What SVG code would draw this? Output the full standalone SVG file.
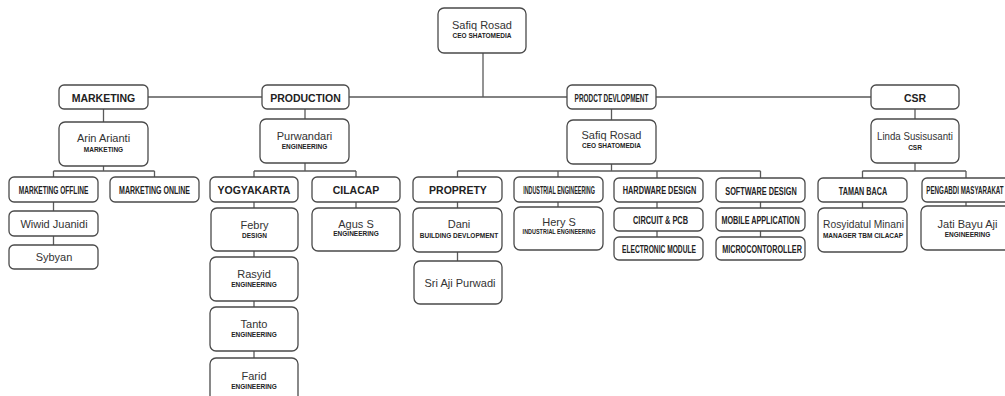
<svg xmlns="http://www.w3.org/2000/svg" width="1005" height="396" viewBox="0 0 1005 396">
<style>
.b{fill:#fff;stroke:#4a4a4a;stroke-width:1.3}
.c{stroke:#5a5a5a;stroke-width:1.3;fill:none}
text{font-family:"Liberation Sans",Arial,sans-serif;fill:#222;text-anchor:middle}
.h{font-weight:bold;font-size:10.5px}
.n{font-weight:bold;font-size:10px}
.nm{font-size:11px;fill:#333}
.s{font-weight:bold;font-size:6.5px}
</style>
<rect width="1005" height="396" fill="#fff"/>
<g id="connectors">
<path class="c" d="M483,53V97M148,97H871"/>
<path class="c" d="M103.5,109V122M103.5,166V171M53.5,171H154.5M53.5,171V177M154.5,171V177M53.5,202V211M53.5,236V245"/>
<path class="c" d="M305,109V119M305,163V171M254,171H356M254,171V177M356,171V177M254,202V208M254,251V257M254,301V307M254,351V358M356,202V208"/>
<path class="c" d="M611.5,109V120M611.5,164V171M457.5,171H760.5M457.5,171V177M558,171V177M657,171V178M760.5,171V178M457.5,202V208M457.5,252V261M558,202V207M657,202V208M657,231V237M760.5,202V208M760.5,231V237"/>
<path class="c" d="M915,109V119M915,163V171M862.5,171H966M862.5,171V178M966,171V178M862.5,202V208M966,202V206"/>
</g>
<g id="ceo"><rect class="b" x="438" y="8" width="88" height="45" rx="6"/><text class="nm" x="482" y="29">Safiq Rosad</text><text class="s" x="482" y="38">CEO SHATOMEDIA</text></g>
<g id="marketing"><rect class="b" x="59" y="85" width="89" height="24" rx="5"/><text class="h" x="103.5" y="101.5">MARKETING</text></g>
<g id="production"><rect class="b" x="262" y="85" width="87" height="24" rx="5"/><text class="h" x="305.5" y="101.5">PRODUCTION</text></g>
<g id="prodct-devlopment"><rect class="b" x="567" y="85" width="89" height="24" rx="5"/><text class="n" transform="translate(611.5,101.5) scale(0.646,1)">PRODCT DEVLOPMENT</text></g>
<g id="csr"><rect class="b" x="871" y="85" width="88" height="24" rx="5"/><text class="h" x="915" y="101.5">CSR</text></g>
<g id="arin"><rect class="b" x="59" y="122" width="89" height="44" rx="6"/><text class="nm" x="103.5" y="142">Arin Arianti</text><text class="s" x="103.5" y="152">MARKETING</text></g>
<g id="purwandari"><rect class="b" x="260" y="119" width="89" height="44" rx="6"/><text class="nm" x="304.5" y="140">Purwandari</text><text class="s" x="304.5" y="149">ENGINEERING</text></g>
<g id="safiq2"><rect class="b" x="567" y="120" width="89" height="44" rx="6"/><text class="nm" x="611.5" y="139">Safiq Rosad</text><text class="s" x="611.5" y="148">CEO SHATOMEDIA</text></g>
<g id="linda"><rect class="b" x="871" y="119" width="88" height="44" rx="6"/><text class="nm" transform="translate(915,140) scale(0.88,1)">Linda Susisusanti</text><text class="s" x="915" y="150">CSR</text></g>
<g id="marketing-offline"><rect class="b" x="9" y="177" width="89" height="25" rx="5"/><text class="n" transform="translate(53.5,194) scale(0.657,1)">MARKETING OFFLINE</text></g>
<g id="marketing-online"><rect class="b" x="110" y="177" width="89" height="25" rx="5"/><text class="n" transform="translate(154.5,194) scale(0.702,1)">MARKETING ONLINE</text></g>
<g id="yogyakarta"><rect class="b" x="210" y="177" width="88" height="25" rx="5"/><text class="h" x="254" y="194">YOGYAKARTA</text></g>
<g id="cilacap"><rect class="b" x="312" y="177" width="88" height="25" rx="5"/><text class="h" x="356" y="194">CILACAP</text></g>
<g id="proprety"><rect class="b" x="413" y="177" width="89" height="25" rx="5"/><text class="h" x="458" y="194">PROPRETY</text></g>
<g id="industrial-engineering"><rect class="b" x="514" y="177" width="89" height="25" rx="5"/><text class="n" transform="translate(559,193.5) scale(0.54,1)">INDUSTRIAL ENGINEERING</text></g>
<g id="hardware-design"><rect class="b" x="614" y="178" width="89" height="24" rx="5"/><text class="n" transform="translate(659.5,194) scale(0.736,1)">HARDWARE DESIGN</text></g>
<g id="software-design"><rect class="b" x="716" y="178" width="89" height="24" rx="5"/><text class="n" transform="translate(761,194.5) scale(0.732,1)">SOFTWARE DESIGN</text></g>
<g id="taman-baca"><rect class="b" x="818" y="178" width="89" height="24" rx="5"/><text class="n" transform="translate(863,194.5) scale(0.723,1)">TAMAN BACA</text></g>
<g id="pengabdi-masyarakat"><rect class="b" x="922" y="178" width="89" height="24" rx="5"/><text class="n" transform="translate(965,194) scale(0.62,1)">PENGABDI MASYARAKAT</text></g>
<g id="wiwid"><rect class="b" x="9" y="211" width="89" height="25" rx="5"/><text class="nm" x="54" y="227.5">Wiwid Juanidi</text></g>
<g id="sybyan"><rect class="b" x="9" y="245" width="89" height="24" rx="5"/><text class="nm" x="54" y="261">Sybyan</text></g>
<g id="febry"><rect class="b" x="211" y="208" width="87" height="43" rx="6"/><text class="nm" x="254.5" y="229">Febry</text><text class="s" x="254.5" y="238">DESIGN</text></g>
<g id="rasyid"><rect class="b" x="210" y="257" width="88" height="44" rx="6"/><text class="nm" x="254" y="278">Rasyid</text><text class="s" x="254" y="287">ENGINEERING</text></g>
<g id="tanto"><rect class="b" x="210" y="307" width="88" height="44" rx="6"/><text class="nm" x="254" y="328">Tanto</text><text class="s" x="254" y="337">ENGINEERING</text></g>
<g id="farid"><rect class="b" x="210" y="358" width="88" height="44" rx="6"/><text class="nm" x="254" y="380">Farid</text><text class="s" x="254" y="389">ENGINEERING</text></g>
<g id="agus"><rect class="b" x="312" y="208" width="88" height="43" rx="6"/><text class="nm" x="356" y="228">Agus S</text><text class="s" x="356" y="236">ENGINEERING</text></g>
<g id="dani"><rect class="b" x="413" y="208" width="89" height="44" rx="6"/><text class="nm" x="459" y="228">Dani</text><text class="s" x="459" y="238">BUILDING DEVLOPMENT</text></g>
<g id="sri"><rect class="b" x="414" y="261" width="88" height="43" rx="6"/><text class="nm" x="460" y="287">Sri Aji Purwadi</text></g>
<g id="hery"><rect class="b" x="514" y="207" width="89" height="43" rx="6"/><text class="nm" x="559" y="226">Hery S</text><text class="s" transform="translate(559,234) scale(0.842,1)">INDUSTRIAL ENGINEERING</text></g>
<g id="circuit-pcb"><rect class="b" x="614" y="208" width="89" height="23" rx="5"/><text class="n" transform="translate(660.5,223.5) scale(0.739,1)">CIRCUIT &amp; PCB</text></g>
<g id="electronic-module"><rect class="b" x="614" y="237" width="89" height="23" rx="5"/><text class="n" transform="translate(659,252.5) scale(0.666,1)">ELECTRONIC MODULE</text></g>
<g id="mobile-application"><rect class="b" x="716" y="208" width="89" height="23" rx="5"/><text class="n" transform="translate(760.5,223.5) scale(0.722,1)">MOBILE APPLICATION</text></g>
<g id="microcontoroller"><rect class="b" x="716" y="237" width="89" height="23" rx="5"/><text class="n" transform="translate(762,252.5) scale(0.723,1)">MICROCONTOROLLER</text></g>
<g id="rosyidatul"><rect class="b" x="818" y="208" width="89" height="44" rx="6"/><text class="nm" transform="translate(863.5,228) scale(0.933,1)">Rosyidatul Minani</text><text class="s" x="863" y="238">MANAGER TBM CILACAP</text></g>
<g id="jati"><rect class="b" x="921" y="206" width="90" height="44" rx="6"/><text class="nm" x="967.5" y="228">Jati Bayu Aji</text><text class="s" x="967.5" y="237">ENGINEERING</text></g>
</svg>
